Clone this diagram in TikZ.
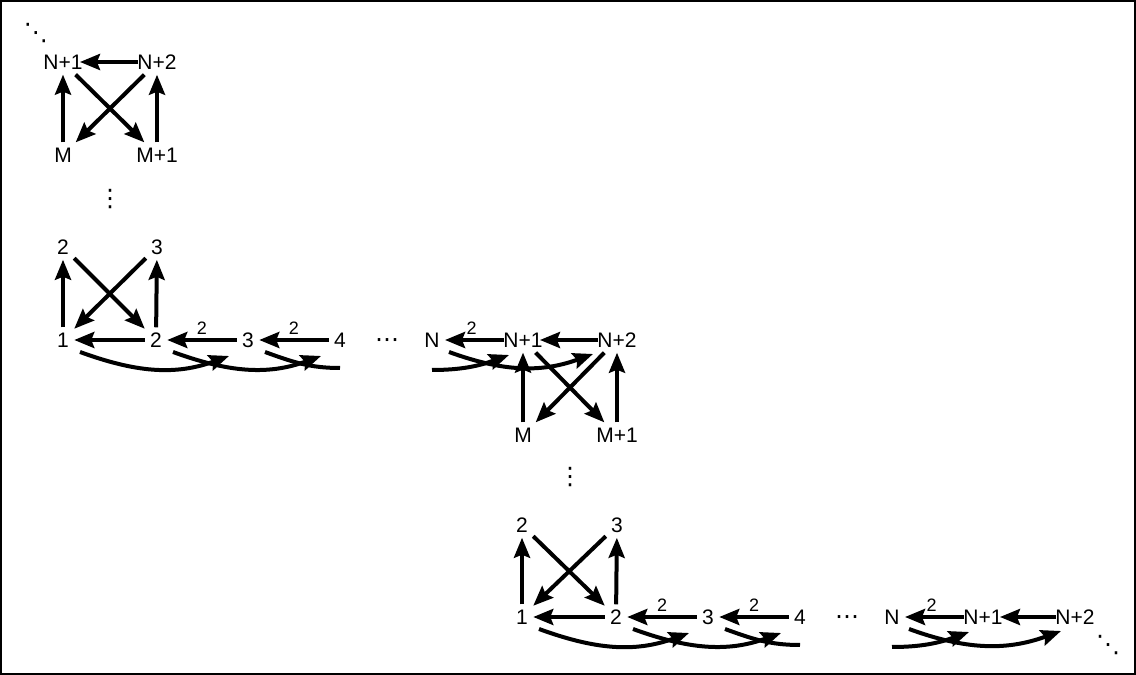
\documentclass[tikz,border=0pt]{standalone}
\usepackage{fontspec}
\setmainfont{Liberation Sans}
\newfontfamily\symfont{DejaVu Sans}
\usetikzlibrary{arrows.meta}

\tikzset{
  vert/.style={inner sep=2.5pt, font=\fontsize{10.5}{12}\selectfont},
  dots/.style={inner sep=0pt, font=\symfont\fontsize{12}{13}\selectfont},
  edge/.style={-{Stealth[length=10pt,width=8pt,inset=1.5pt]}, line width=2pt},
  lab/.style={font=\fontsize{9}{10}\selectfont, inner sep=1.5pt, above},
}

\begin{document}
\begin{tikzpicture}[x=0.5pt, y=0.5pt]
  \useasboundingbox (0,0) rectangle (1136,675);
  \draw [line width=1pt] (1,1) rectangle (1135,674);

  % upper block
  \node [dots] (a-dd) at (36,642) {⋱};
  \node [vert] (a-n1) at (63,613) {N+1};
  \node [vert] (a-n2) at (157,613) {N+2};
  \node [vert] (a-m) at (63,520) {M};
  \node [vert] (a-m1) at (157,520) {M+1};
  \node [dots] (a-vd) at (110,476) {⋮};
  \draw [edge, shorten <=-3pt, shorten >=-4pt] (a-n2) -- (a-n1);
  \draw [edge] (a-m) -- (a-n1);
  \draw [edge] (a-m1) -- (a-n2);
  \draw [edge] (a-n1.-45) -- (a-m1.135);
  \draw [edge] (a-n2.-135) -- (a-m.45);

  % middle block
  \node [vert] (b-u2) at (63,428) {2};
  \node [vert] (b-u3) at (157,428) {3};
  \node [vert] (b-1) at (63,335) {1};
  \node [vert] (b-2) at (156,335) {2};
  \node [vert] (b-3) at (248,335) {3};
  \node [vert] (b-4) at (340,335) {4};
  \node [dots] (b-hd) at (387,332) {⋯};
  \node [vert] (b-n) at (432,335) {N};
  \node [vert] (b-n1) at (523,335) {N+1};
  \node [vert] (b-n2) at (617,335) {N+2};
  \node [vert] (b-m) at (523,240) {M};
  \node [vert] (b-m1) at (617,240) {M+1};
  \node [dots] (b-vd) at (570,198) {⋮};
  \coordinate (b-cutr) at ([yshift=-14pt]b-4.center);
  \coordinate (b-cutl) at ([yshift=-15pt]b-n.center);
  \draw [edge] (b-1) -- (b-u2);
  \draw [edge] (b-2) -- (b-u3);
  \draw [edge] (b-u2.-45) -- (b-2.135);
  \draw [edge] (b-u3.-135) -- (b-1.45);
  \draw [edge] (b-2) -- (b-1);
  \draw [edge] (b-3) -- node [lab] {2} (b-2);
  \draw [edge] (b-4) -- node [lab] {2} (b-3);
  \draw [edge, shorten <=-3pt] (b-n1) -- node [lab] {2} (b-n);
  \draw [edge, shorten <=-3pt, shorten >=-4pt] (b-n2) -- (b-n1);
  \draw [edge] (b-m) -- (b-n1);
  \draw [edge] (b-m1) -- (b-n2);
  \draw [edge] (b-n1.-45) -- (b-m1.135);
  \draw [edge] (b-n2.-135) -- (b-m.45);
  \draw [edge] ([shift={(17,-12)}]b-1.center) to [out=-20, in=200] ([shift={(-19,-16)}]b-3.center);
  \draw [edge] ([shift={(17,-12)}]b-2.center) to [out=-20, in=200] ([shift={(-19,-16)}]b-4.center);
  \draw [line width=2pt] ([shift={(17,-12)}]b-3.center) to [out=-20, in=180] (b-cutr);
  \draw [edge] (b-cutl) to [out=0, in=200] ([shift={(-14,-15)}]b-n1.center);
  \draw [edge] ([shift={(17,-12)}]b-n.center) to [out=-20, in=200] ([shift={(-24,-14)}]b-n2.center);

  % lower block
  \node [vert] (c-u2) at (522,150) {2};
  \node [vert] (c-u3) at (617,150) {3};
  \node [vert] (c-1) at (522,58) {1};
  \node [vert] (c-2) at (616,58) {2};
  \node [vert] (c-3) at (708,58) {3};
  \node [vert] (c-4) at (800,58) {4};
  \node [dots] (c-hd) at (847,55) {⋯};
  \node [vert] (c-n) at (892,58) {N};
  \node [vert] (c-n1) at (983,58) {N+1};
  \node [vert] (c-n2) at (1075,58) {N+2};
  \node [dots] (c-dd) at (1108,30) {⋱};
  \coordinate (c-cutr) at ([yshift=-14pt]c-4.center);
  \coordinate (c-cutl) at ([yshift=-15pt]c-n.center);
  \draw [edge] (c-1) -- (c-u2);
  \draw [edge] (c-2) -- (c-u3);
  \draw [edge] (c-u2.-45) -- (c-2.135);
  \draw [edge] (c-u3.-135) -- (c-1.45);
  \draw [edge] (c-2) -- (c-1);
  \draw [edge] (c-3) -- node [lab] {2} (c-2);
  \draw [edge] (c-4) -- node [lab] {2} (c-3);
  \draw [edge, shorten <=-3pt] (c-n1) -- node [lab] {2} (c-n);
  \draw [edge, shorten <=-3pt, shorten >=-4pt] (c-n2) -- (c-n1);
  \draw [edge] ([shift={(17,-12)}]c-1.center) to [out=-20, in=200] ([shift={(-19,-16)}]c-3.center);
  \draw [edge] ([shift={(17,-12)}]c-2.center) to [out=-20, in=200] ([shift={(-19,-16)}]c-4.center);
  \draw [line width=2pt] ([shift={(17,-12)}]c-3.center) to [out=-20, in=180] (c-cutr);
  \draw [edge] (c-cutl) to [out=0, in=200] ([shift={(-14,-15)}]c-n1.center);
  \draw [edge] ([shift={(17,-12)}]c-n.center) to [out=-20, in=200] ([shift={(-14,-14)}]c-n2.center);
\end{tikzpicture}
\end{document}
